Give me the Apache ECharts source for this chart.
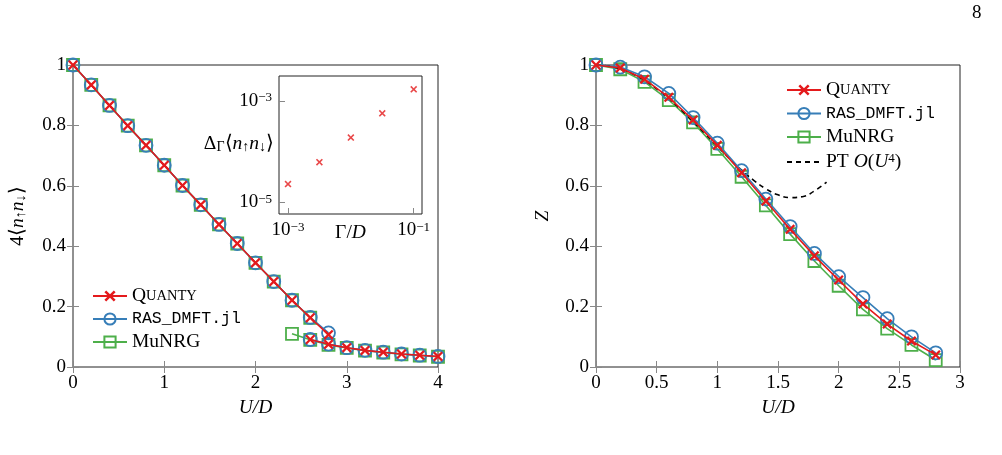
<!DOCTYPE html>
<html>
<head>
<meta charset="utf-8">
<script src="https://cdn.jsdelivr.net/npm/echarts@6/dist/echarts.min.js"></script>
<style>
  html, body { margin: 0; background: #fff; }
  #chart { width: 1002px; height: 455px; }
</style>
</head>
<body>
<div id="chart"></div>
<script>
// left panel: double occupancy 4<n_up n_dn> vs U/D (two branches each)
const uUpper = [0, 0.2, 0.4, 0.6, 0.8, 1.0, 1.2, 1.4, 1.6, 1.8, 2.0, 2.2, 2.4, 2.6, 2.8];
const quantyUpper = [1.0, 0.934, 0.866, 0.799, 0.734, 0.668, 0.601, 0.537, 0.472, 0.409, 0.345, 0.283, 0.221, 0.163, 0.107];
const rasUpper = [1.0, 0.934, 0.866, 0.799, 0.734, 0.668, 0.601, 0.537, 0.472, 0.409, 0.345, 0.283, 0.221, 0.164, 0.113];
const uMunrgUpper = [0, 0.2, 0.4, 0.6, 0.8, 1.0, 1.2, 1.4, 1.6, 1.8, 2.0, 2.2, 2.4, 2.6];
const munrgUpper = [1.0, 0.934, 0.866, 0.799, 0.734, 0.668, 0.601, 0.537, 0.472, 0.409, 0.345, 0.283, 0.221, 0.163];
const uLower = [2.6, 2.8, 3.0, 3.2, 3.4, 3.6, 3.8, 4.0];
const quantyLower = [0.091, 0.075, 0.064, 0.055, 0.049, 0.043, 0.039, 0.035];
const rasLower = [0.091, 0.076, 0.064, 0.055, 0.049, 0.043, 0.039, 0.035];
const uMunrgLower = [2.4, 2.6, 2.8, 3.0, 3.2, 3.4, 3.6, 3.8, 4.0];
const munrgLower = [0.110, 0.090, 0.073, 0.063, 0.054, 0.048, 0.042, 0.038, 0.034];

// inset: Delta_Gamma <n_up n_dn> vs Gamma/D (log-log)
const gammaD = [0.001, 0.00316, 0.01, 0.0316, 0.1];
const deltaDocc = [2.3e-5, 6.2e-5, 1.9e-4, 5.7e-4, 1.7e-3];

// right panel: quasiparticle weight Z vs U/D
const uRight = [0, 0.2, 0.4, 0.6, 0.8, 1.0, 1.2, 1.4, 1.6, 1.8, 2.0, 2.2, 2.4, 2.6, 2.8];
const quantyZ = [1.0, 0.990, 0.953, 0.893, 0.818, 0.734, 0.643, 0.549, 0.456, 0.368, 0.288, 0.209, 0.142, 0.086, 0.040];
const rasZ = [1.0, 0.993, 0.961, 0.906, 0.826, 0.741, 0.650, 0.556, 0.465, 0.376, 0.299, 0.230, 0.160, 0.100, 0.047];
const munrgZ = [1.0, 0.986, 0.944, 0.884, 0.810, 0.722, 0.630, 0.535, 0.440, 0.351, 0.269, 0.191, 0.127, 0.073, 0.023];
// perturbation theory O(U^4), dashed
const ptU = [0, 0.1, 0.2, 0.3, 0.4, 0.5, 0.6, 0.7, 0.8, 0.9, 1.0, 1.1, 1.2, 1.3, 1.4, 1.5, 1.6, 1.7, 1.8, 1.9];
const ptZ = [1.0, 0.997, 0.987, 0.971, 0.949, 0.921, 0.889, 0.852, 0.813, 0.772, 0.731, 0.690, 0.652, 0.618, 0.590, 0.570, 0.561, 0.564, 0.583, 0.612];

const serif = 'Liberation Serif';
const mono = 'Liberation Mono';
const red = '#e41a1c';
const blue = '#377eb8';
const green = '#4daf4a';
const crossPath = 'path://M0,1.6L1.6,0L5,3.4L8.4,0L10,1.6L6.6,5L10,8.4L8.4,10L5,6.6L1.6,10L0,8.4L3.4,5Z';

const rich = {
  rm: { fontFamily: serif, fontSize: 19.5, color: '#000' },
  it: { fontFamily: serif, fontSize: 19.5, fontStyle: 'italic', color: '#000' },
  sc: { fontFamily: serif, fontSize: 14.5, color: '#000' },
  tt: { fontFamily: mono, fontSize: 16.5, color: '#000' },
  sup: { fontFamily: serif, fontSize: 13, color: '#000', verticalAlign: 'top' },
  sub: { fontFamily: serif, fontSize: 14, color: '#000', verticalAlign: 'bottom' },
};

const legendNames = {
  'Quanty': '{rm|Q}{sc|UANTY}',
  'RAS_DMFT.jl': '{tt|RAS_DMFT.jl}',
  'MuNRG': '{rm|MuNRG}',
  'PT': '{rm|PT }{it|O}{rm|(}{it|U}{sup|4}{rm|)}',
};

function zip(xs, ys) {
  return xs.map((x, i) => [x, ys[i]]);
}

function valAxis(gridIndex, position, min, max, interval, labels) {
  return {
    type: 'value',
    gridIndex,
    position,
    min,
    max,
    interval,
    axisLine: { show: false },
    axisTick: { show: true, inside: true, length: 6, lineStyle: { color: '#888', width: 1 } },
    axisLabel: { show: labels, fontFamily: serif, fontSize: 19, color: '#000', margin: 7 },
    splitLine: { show: false },
    nameMoveOverlap: false,
  };
}

function mk(name, xs, ys, xi, yi) {
  const s = {
    name,
    type: 'line',
    xAxisIndex: xi,
    yAxisIndex: yi,
    data: zip(xs, ys),
    clip: false,
    animation: false,
  };
  if (name === 'Quanty') {
    s.symbol = crossPath;
    s.symbolSize = 10;
    s.itemStyle = { color: red };
    s.lineStyle = { color: red, width: 1.6 };
    s.z = 5;
  } else if (name === 'RAS_DMFT.jl') {
    s.symbol = 'circle';
    s.symbolSize = 13;
    s.itemStyle = { color: 'rgba(255,255,255,0)', borderColor: blue, borderWidth: 1.8 };
    s.lineStyle = { color: blue, width: 1.6 };
    s.z = 4;
  } else {
    s.symbol = 'rect';
    s.symbolSize = 12;
    s.itemStyle = { color: 'rgba(255,255,255,0)', borderColor: green, borderWidth: 1.8 };
    s.lineStyle = { color: green, width: 1.6 };
    s.z = 3;
  }
  return s;
}

const gridBox = { show: true, borderColor: '#222', borderWidth: 1, backgroundColor: 'transparent' };

const xAxes = [
  valAxis(0, 'bottom', 0, 4, 1, true),
  valAxis(0, 'top', 0, 4, 1, false),
  {
    type: 'log', gridIndex: 1, position: 'bottom', min: 0.000719, max: 0.1355,
    axisLine: { show: false },
    axisTick: { show: true, inside: true, length: 6, lineStyle: { color: '#888' }, customValues: [0.001, 0.1] },
    axisLabel: {
      fontFamily: serif, fontSize: 19, color: '#000', margin: 7, customValues: [0.001, 0.1],
      formatter: (v) => (v < 0.005 ? '10{sup|−3}' : '10{sup|−1}'),
      rich: { sup: { fontFamily: serif, fontSize: 13, verticalAlign: 'top' } },
    },
    splitLine: { show: false },
    name: '{rm|Γ/}{it|D}', nameLocation: 'middle', nameGap: 9, nameMoveOverlap: false,
    nameTextStyle: { rich },
  },
  valAxis(2, 'bottom', 0, 3, 0.5, true),
  valAxis(2, 'top', 0, 3, 0.5, false),
];
xAxes[0].name = '{it|U/D}';
xAxes[0].nameLocation = 'middle';
xAxes[0].nameGap = 31;
xAxes[0].nameTextStyle = { rich };
xAxes[3].name = '{it|U/D}';
xAxes[3].nameLocation = 'middle';
xAxes[3].nameGap = 31;
xAxes[3].nameTextStyle = { rich };

const yAxes = [
  valAxis(0, 'left', 0, 1, 0.2, true),
  valAxis(0, 'right', 0, 1, 0.2, false),
  {
    type: 'log', gridIndex: 1, position: 'left', min: 5.9e-6, max: 3.11e-3,
    axisLine: { show: false },
    axisTick: { show: true, inside: true, length: 6, lineStyle: { color: '#888' }, customValues: [1e-5, 1e-3] },
    axisLabel: {
      fontFamily: serif, fontSize: 19, color: '#000', margin: 7, customValues: [1e-5, 1e-3],
      formatter: (v) => (v < 1e-4 ? '10{sup|−5}' : '10{sup|−3}'),
      rich: { sup: { fontFamily: serif, fontSize: 13, verticalAlign: 'top' } },
    },
    splitLine: { show: false },
  },
  valAxis(2, 'left', 0, 1, 0.2, true),
  valAxis(2, 'right', 0, 1, 0.2, false),
];
yAxes[0].name = '{rm|4⟨}{it|n}{sub|↑}{it|n}{sub|↓}{rm|⟩}';
yAxes[0].nameLocation = 'middle';
yAxes[0].nameGap = 45;
yAxes[0].nameTextStyle = { rich };
yAxes[3].name = '{it|Z}';
yAxes[3].nameLocation = 'middle';
yAxes[3].nameGap = 43;
yAxes[3].nameTextStyle = { rich };

const series = [
  mk('MuNRG', uMunrgUpper, munrgUpper, 0, 0),
  mk('MuNRG', uMunrgLower, munrgLower, 0, 0),
  mk('RAS_DMFT.jl', uUpper, rasUpper, 0, 0),
  mk('RAS_DMFT.jl', uLower, rasLower, 0, 0),
  mk('Quanty', uUpper, quantyUpper, 0, 0),
  mk('Quanty', uLower, quantyLower, 0, 0),
  {
    name: 'inset', type: 'scatter', xAxisIndex: 2, yAxisIndex: 2,
    data: zip(gammaD, deltaDocc), symbol: crossPath, symbolSize: 7,
    itemStyle: { color: red }, z: 5, animation: false,
  },
  mk('Quanty', uRight, quantyZ, 3, 3),
  mk('RAS_DMFT.jl', uRight, rasZ, 3, 3),
  mk('MuNRG', uRight, munrgZ, 3, 3),
  {
    name: 'PT', type: 'line', xAxisIndex: 3, yAxisIndex: 3,
    data: zip(ptU, ptZ), symbol: 'none', smooth: true,
    lineStyle: { color: '#000', width: 1.6, type: [5, 4] },
    itemStyle: { color: 'rgba(0,0,0,0)' },
    z: 3.5, animation: false,
  },
];

const legendBase = {
  orient: 'vertical',
  itemWidth: 34,
  itemHeight: 14,
  itemGap: 4.5,
  formatter: (n) => legendNames[n],
  textStyle: { rich },
  selectedMode: false,
};

const option = {
  animation: false,
  grid: [
    Object.assign({ left: 73, top: 65, width: 365, height: 302 }, gridBox),
    Object.assign({ left: 279, top: 76, width: 143, height: 138 }, gridBox, { backgroundColor: '#fff' }),
    Object.assign({ left: 596, top: 65, width: 364, height: 302 }, gridBox),
  ],
  xAxis: xAxes,
  yAxis: yAxes,
  legend: [
    Object.assign({}, legendBase, { left: 87, top: 281, data: ['Quanty', 'RAS_DMFT.jl', 'MuNRG'] }),
    Object.assign({}, legendBase, { left: 781, top: 75, itemGap: 5, data: ['Quanty', 'RAS_DMFT.jl', 'MuNRG', 'PT'] }),
  ],
  graphic: [
    {
      type: 'text', left: 972, top: 4,
      style: { text: '8', font: '19px "Liberation Serif"', fill: '#000' },
    },
    {
      type: 'text', right: 1002 - 274, top: 134,
      style: {
        text: '{rm|Δ}{sub|Γ}{rm|⟨}{it|n}{sub|↑}{it|n}{sub|↓}{rm|⟩}',
        rich,
      },
    },
  ],
  series,
};

const chart = echarts.init(document.getElementById('chart'));
chart.setOption(option);
</script>
</body>
</html>
